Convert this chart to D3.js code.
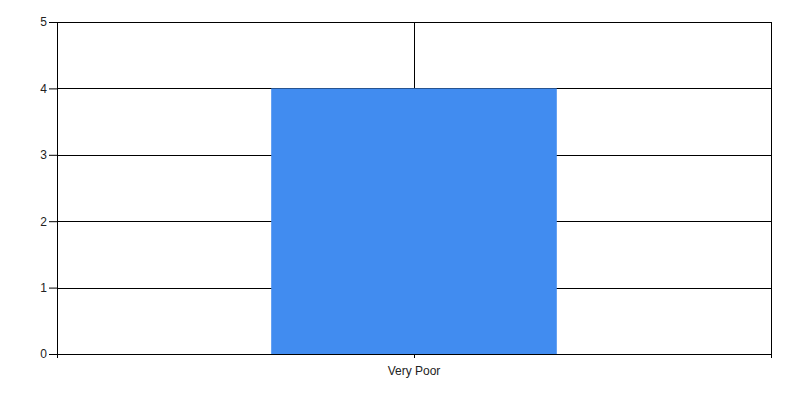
<!DOCTYPE html>
<html lang="en">
<head>
    <meta charset="utf-8" />
    <script src="https://d3js.org/d3.v7.min.js"></script>
    <style>
        body { margin: 0; background: #fff; }
        text { font-family: "Liberation Sans", Arial, sans-serif; font-size: 12px; fill: #222; }
    </style>
</head>
<body>
    <script>
        // chart values
        const categories = ["Very Poor"];
        const counts = [4];
        const yTicks = [0, 1, 2, 3, 4, 5];

        const width = 800;
        const height = 400;
        const margin = { top: 22, right: 29, bottom: 46, left: 57 };
        const plotW = width - margin.left - margin.right;
        const plotH = height - margin.top - margin.bottom;

        const svg = d3.select("body")
            .append("svg")
            .attr("width", width)
            .attr("height", height);

        const g = svg.append("g")
            .attr("transform", `translate(${margin.left},${margin.top})`);

        // x: one category in the middle, axis edges one step out
        const xScale = d3.scalePoint()
            .domain(categories)
            .range([0, plotW])
            .padding(1);
        const step = xScale.step();
        const barWidth = step * 0.8;

        const yScale = d3.scaleLinear()
            .domain([0, d3.max(yTicks)])
            .range([plotH, 0]);

        // horizontal grid lines
        g.selectAll(".hgrid")
            .data(yTicks)
            .enter()
            .append("line")
            .attr("x1", 0)
            .attr("x2", plotW)
            .attr("y1", d => Math.round(yScale(d)) + 0.5)
            .attr("y2", d => Math.round(yScale(d)) + 0.5)
            .attr("stroke", "#000");

        // vertical grid lines at category centre and plot edges
        const xEdges = [0, xScale(categories[0]), plotW];
        g.selectAll(".vgrid")
            .data(xEdges)
            .enter()
            .append("line")
            .attr("x1", d => Math.round(d) + 0.5)
            .attr("x2", d => Math.round(d) + 0.5)
            .attr("y1", 0)
            .attr("y2", plotH)
            .attr("stroke", "#000");

        // bars
        g.selectAll(".bar")
            .data(counts)
            .enter()
            .append("rect")
            .attr("class", "bar")
            .attr("x", (d, i) => xScale(categories[i]) - barWidth / 2)
            .attr("y", d => yScale(d))
            .attr("width", barWidth)
            .attr("height", d => plotH - yScale(d))
            .attr("fill", "#418CF0");

        // y axis
        const yAxis = d3.axisLeft(yScale)
            .tickValues(yTicks)
            .tickFormat(d3.format("d"))
            .tickSize(8)
            .tickPadding(2);
        const yG = g.append("g").call(yAxis);
        yG.select(".domain").remove();
        yG.selectAll("line").attr("stroke", "#000");
        yG.selectAll("text").attr("fill", "#222").style("font-size", "12px");

        // x axis tick marks at edges + centre, label at centre
        g.selectAll(".xtick")
            .data(xEdges)
            .enter()
            .append("line")
            .attr("x1", d => Math.round(d) + 0.5)
            .attr("x2", d => Math.round(d) + 0.5)
            .attr("y1", plotH)
            .attr("y2", plotH + 4)
            .attr("stroke", "#000");

        g.selectAll(".xlabel")
            .data(categories)
            .enter()
            .append("text")
            .attr("x", d => xScale(d))
            .attr("y", plotH + 21)
            .attr("text-anchor", "middle")
            .text(d => d);
    </script>
</body>
</html>
